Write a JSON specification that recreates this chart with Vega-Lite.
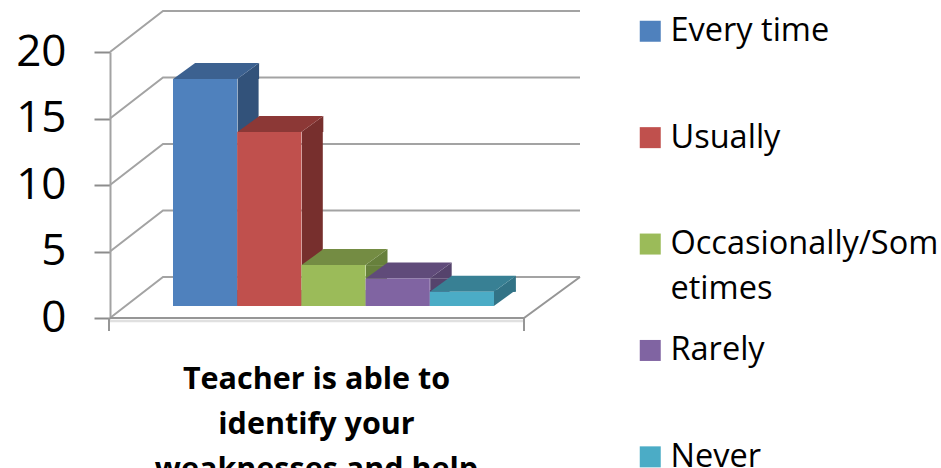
{"$schema":"https://vega.github.io/schema/vega-lite/v6.json","width":414,"height":266,"autosize":"none","padding":{"left":110,"top":52,"right":417,"bottom":150},"background":"white","datasets":{"bars":[{"series":"Every time","value":17},{"series":"Usually","value":13},{"series":"Occasionally/Sometimes","value":3},{"series":"Rarely","value":2},{"series":"Never","value":1}],"ticks":[{"tick":0},{"tick":5},{"tick":10},{"tick":15},{"tick":20}],"floor":[{"tick":0}]},"layer":[{"data":{"name":"ticks"},"mark":{"type":"point","filled":false,"opacity":1,"size":4,"strokeWidth":2,"stroke":"#a3a3a3","shape":"M-207,0 L-154,-41 L263,-41"},"encoding":{"y":{"field":"tick","type":"quantitative","scale":{"domain":[0,20],"nice":false,"zero":false},"axis":{"values":[0,5,10,15,20],"title":null,"grid":false,"domain":true,"domainColor":"#a3a3a3","domainWidth":2,"tickColor":"#8c8c8c","tickWidth":2,"tickSize":16,"labelFont":"Open Sans","labelFontSize":44,"labelColor":"#000000","labelPadding":28,"labelLimit":200}}}},{"data":{"name":"floor"},"mark":{"type":"point","filled":false,"opacity":1,"size":4,"strokeWidth":2.5,"stroke":"#e0e0e0","shape":"M-207,3 L207,3"},"encoding":{"y":{"field":"tick","type":"quantitative"}}},{"data":{"name":"floor"},"mark":{"type":"point","filled":false,"opacity":1,"size":4,"strokeWidth":2,"stroke":"#969696","shape":"M-208,0 L-208,13 M-207,0 L207,0 L263,-41 M207,0 L207,13"},"encoding":{"y":{"field":"tick","type":"quantitative"}}},{"data":{"name":"bars"},"mark":{"type":"bar","width":21,"xOffset":43,"yOffset":-13,"y2Offset":-28},"encoding":{"x":{"field":"series","type":"nominal","sort":null,"scale":{"domain":["Every time","Usually","Occasionally/Sometimes","Rarely","Never"],"range":[63,384],"paddingInner":0,"paddingOuter":0},"axis":{"labels":false,"ticks":false,"domain":false,"title":["Teacher is able to","identify your","weaknesses and help"],"titleFont":"Open Sans","titleFontSize":30.5,"titleFontWeight":"bold","titleColor":"#000000","titleLineHeight":45,"titleX":206,"titleY":70,"titleBaseline":"alphabetic","titleLimit":600}},"y":{"field":"value","type":"quantitative","stack":null},"y2":{"datum":0},"color":{"field":"series","type":"nominal","legend":null,"scale":{"domain":["Every time","Usually","Occasionally/Sometimes","Rarely","Never"],"range":["#32527a","#772f2d","#67803c","#55436c","#327386"]}}}},{"data":{"name":"bars"},"mark":{"type":"point","filled":true,"opacity":1,"size":4,"shape":"M32,-13 L54,-29 L54,-13 Z"},"encoding":{"x":{"field":"series","type":"nominal"},"y":{"field":"value","type":"quantitative"},"color":{"field":"series","type":"nominal","legend":null,"scale":{"domain":["Every time","Usually","Occasionally/Sometimes","Rarely","Never"],"range":["#32527a","#772f2d","#67803c","#55436c","#327386"]}}}},{"data":{"name":"bars"},"mark":{"type":"point","filled":true,"opacity":1,"size":4,"shape":"M32,-28 L54,-28 L32,-12 Z"},"encoding":{"x":{"field":"series","type":"nominal"},"y":{"datum":0},"color":{"field":"series","type":"nominal","legend":null,"scale":{"domain":["Every time","Usually","Occasionally/Sometimes","Rarely","Never"],"range":["#32527a","#772f2d","#67803c","#55436c","#327386"]}}}},{"data":{"name":"bars"},"mark":{"type":"point","filled":true,"opacity":1,"size":4,"shape":"M-32,-13 L32,-13 L54,-29 L-10,-29 Z"},"encoding":{"x":{"field":"series","type":"nominal"},"y":{"field":"value","type":"quantitative"},"color":{"field":"series","type":"nominal","legend":null,"scale":{"domain":["Every time","Usually","Occasionally/Sometimes","Rarely","Never"],"range":["#3c6190","#8c3836","#748c43","#604b7a","#388094"]}}}},{"data":{"name":"bars"},"mark":{"type":"bar","yOffset":-13,"y2Offset":-12},"encoding":{"x":{"field":"series","type":"nominal"},"y":{"field":"value","type":"quantitative","stack":null},"y2":{"datum":0},"color":{"field":"series","type":"nominal","scale":{"domain":["Every time","Usually","Occasionally/Sometimes","Rarely","Never"],"range":["#4f81bd","#c0504d","#9bbb59","#8064a2","#4bacc6"]},"legend":{"title":null,"orient":"none","legendX":524,"legendY":-37,"symbolType":"square","symbolSize":441,"symbolStrokeWidth":0,"symbolOpacity":1,"labelFont":"Open Sans","labelFontSize":32.5,"labelColor":"#000000","labelLimit":400,"labelOffset":4,"rowPadding":28.4,"gridAlign":"all","labelExpr":"datum.label == 'Occasionally/Sometimes' ? ['Occasionally/Som','etimes'] : datum.label","encode":{"labels":{"update":{"lineHeight":{"value":45}}}}}}}}],"resolve":{"scale":{"color":"independent"}},"config":{"view":{"stroke":null}}}
